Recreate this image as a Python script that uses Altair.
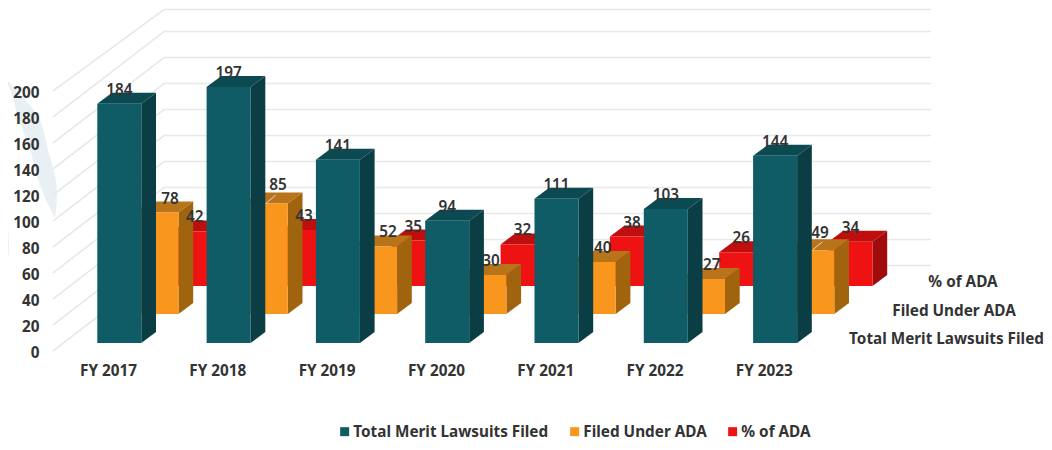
import altair as alt
import pandas as pd

# ---- chart values ----
YEARS = ["FY 2017", "FY 2018", "FY 2019", "FY 2020", "FY 2021", "FY 2022", "FY 2023"]
TOTAL = [184, 197, 141, 94, 111, 103, 144]
ADA = [78, 85, 52, 30, 40, 27, 49]
PCT = [42, 43, 35, 32, 38, 26, 34]
SERIES = ["Total Merit Lawsuits Filed", "Filed Under ADA", "% of ADA"]
Y_TICKS = [0, 20, 40, 60, 80, 100, 120, 140, 160, 180, 200]

# ---- styling / layout ----
FONT = "Noto Sans"
FS = 15.3
TXT = "#333333"
COL_FRONT = ["#0F5C67", "#F9961D", "#EE1212"]
COL_SIDE = ["#0A3D44", "#A0640F", "#A00C0C"]
COL_TOP = ["#0C4A52", "#B8741A", "#BE0E0E"]
W, H = 1036, 434
STEP = 109.3      # px per category
UNIT = 1.3        # px per value unit
ORIGIN_X = 108    # page px of first category tick
ORIGIN_Y = 351    # page px of value 0
BAR_W = 44
DEPTH_X, DEPTH_Y = 14.7, 11
WALL_TOP = 9.5    # highest page px a gridline can reach inside the canvas
# front-left page x and floor page y per series row
ROW_X = [97.3, 134.5, 172.7]
ROW_BASE = [343, 314, 286]
# orange labels were nudged by hand in the source
ADA_LABEL_DX = [13.5, 12.2, 12.9, 6.6, 9, 8.7, 7.7]
ADA_LABEL_UP = [14, 18.5, 14, 14, 14, 14, 17.6]
LEADER = [1, 6]


def ux(px):
    return (px - ORIGIN_X) / STEP


def uy(px):
    return (ORIGIN_Y - px) / UNIT


X_DOM = [ux(8), ux(8 + W)]
Y_DOM = [uy(8 + H), uy(8)]
xs = alt.Scale(domain=X_DOM, nice=False, zero=False)
ys = alt.Scale(domain=Y_DOM, nice=False, zero=False)


def X(f="x", **k):
    return alt.X(f"{f}:Q", scale=xs, title=None, **k)


def Y(f="y", **k):
    return alt.Y(f"{f}:Q", scale=ys, title=None, **k)


layers = []

# watermark behind everything
blade = [(78, 5, 5), (95, 12, 21), (113, 17, 36), (150, 30, 48), (193, 43, 57), (218, 55, 55)]
lobe = [(190, 0, 0), (217, 0, 7), (247, 0, 9), (273, 0, 5), (290, 0, 0)]
nick = [(157, 0, 0), (175, 0, 5)]
wm = []
for gid, shape in enumerate([blade, lobe, nick]):
    for py, a, b in shape:
        wm.append({"g": gid, "y": uy(py), "x": ux(a), "x2": ux(b)})
layers.append(
    alt.Chart(pd.DataFrame(wm)).mark_area(orient="horizontal", color="#E9F0F3", interpolate="monotone").encode(
        x=X(stack=None), x2="x2:Q", y=Y(), detail="g:N"
    )
)

# gridlines (walls)
grid = []
for t in Y_TICKS:
    back = min(t + 85.5 / UNIT, uy(WALL_TOP))
    grid += [
        {"t": t, "k": 0, "x": ux(53), "y": t},
        {"t": t, "k": 1, "x": ux(164), "y": back},
        {"t": t, "k": 2, "x": ux(931), "y": back},
    ]
layers.append(
    alt.Chart(pd.DataFrame(grid)).mark_line(color="#EAE8E8", strokeWidth=1.6).encode(
        x=X(
            axis=alt.Axis(
                values=list(range(len(YEARS))),
                labelExpr="[" + ",".join(f"'{y}'" for y in YEARS) + "][datum.value]",
                domain=False, ticks=False, grid=False, offset=-79, labelPadding=0,
                labelFont=FONT, labelFontSize=FS, labelFontWeight="bold", labelColor=TXT,
                zindex=1,
            )
        ),
        y=Y(
            axis=alt.Axis(
                values=Y_TICKS, domain=False, ticks=False, grid=False, offset=-36, labelPadding=5,
                labelOffset=1,
                labelFont=FONT, labelFontSize=FS, labelFontWeight="bold", labelColor=TXT,
                zindex=1,
            )
        ),
        detail="t:N", order="k:Q",
    )
)

# bars: back row first
ROWS = [TOTAL, ADA, PCT]
for r in [2, 1, 0]:
    vals = ROWS[r]
    front, side, top = [], [], []
    for i, v in enumerate(vals):
        x0 = ROW_X[r] + i * STEP
        x1 = x0 + BAR_W
        base = uy(ROW_BASE[r])
        tp = base + v
        dy = DEPTH_Y / UNIT
        dx = DEPTH_X
        front.append({"x": ux(x0), "x2": ux(x1), "y": base, "y2": tp, "s": SERIES[r]})
        side += [
            {"g": i, "x": ux(x1), "y": base, "y2": tp},
            {"g": i, "x": ux(x1 + dx), "y": base + dy, "y2": tp + dy},
        ]
        top += [
            {"g": i, "y": tp, "x": ux(x0), "x2": ux(x1)},
            {"g": i, "y": tp + dy, "x": ux(x0 + dx), "x2": ux(x1 + dx)},
        ]
    layers.append(
        alt.Chart(pd.DataFrame(side)).mark_area(color=COL_SIDE[r]).encode(
            x=X(), y=Y(stack=None), y2="y2:Q", detail="g:N"
        )
    )
    layers.append(
        alt.Chart(pd.DataFrame(top)).mark_area(orient="horizontal", color=COL_TOP[r]).encode(
            x=X(stack=None), x2="x2:Q", y=Y(), detail="g:N"
        )
    )
    layers.append(
        alt.Chart(pd.DataFrame(front)).mark_rect().encode(
            x=X(), x2="x2:Q", y=Y(), y2="y2:Q",
            color=alt.Color(
                "s:N",
                scale=alt.Scale(domain=SERIES, range=COL_FRONT),
                sort=SERIES,
                legend=alt.Legend(
                    title=None, orient="none", direction="horizontal", legendX=329, legendY=416,
                    symbolType="square", symbolSize=81, symbolStrokeWidth=0, symbolOpacity=1,
                    labelFont=FONT, labelFontSize=FS, labelFontWeight="bold", labelColor=TXT,
                    labelOffset=1, columnPadding=18, labelLimit=400, padding=0,
                ),
            ),
        )
    )

# leader lines
lead = []
for i in LEADER:
    cx = ROW_X[1] + i * STEP + BAR_W / 2
    tp = uy(ROW_BASE[1]) + ADA[i]
    lead += [
        {"g": i, "k": 0, "x": ux(cx), "y": tp},
        {"g": i, "k": 1, "x": ux(cx + 10), "y": tp + 8.5 / UNIT},
    ]
layers.append(
    alt.Chart(pd.DataFrame(lead)).mark_line(color="#D9D9D9", strokeWidth=1).encode(
        x=X(), y=Y(), detail="g:N", order="k:Q"
    )
)

# value labels
labels = []
for r in [2, 1, 0]:
    for i, v in enumerate(ROWS[r]):
        cx = ROW_X[r] + i * STEP + BAR_W / 2
        up = 14
        if r == 1:
            cx += ADA_LABEL_DX[i]
            up = ADA_LABEL_UP[i]
        labels.append({"x": ux(cx), "y": uy(ROW_BASE[r]) + v + up / UNIT, "t": str(v)})
layers.append(
    alt.Chart(pd.DataFrame(labels)).mark_text(
        font=FONT, fontSize=FS, fontWeight=600, color=TXT, baseline="middle", align="center"
    ).encode(x=X(), y=Y(), text="t:N")
)

# depth-axis series names
depth = pd.DataFrame({
    "t": SERIES,
    "x": [ux(946.5), ux(954), ux(963)],
    "y": [uy(339), uy(311), uy(282)],
})
layers.append(
    alt.Chart(depth).mark_text(
        font=FONT, fontSize=FS, fontWeight="bold", color=TXT, baseline="middle", align="center"
    ).encode(x=X(), y=Y(), text="t:N")
)

chart = (
    alt.layer(*layers)
    .properties(
        width=W, height=H, background="white",
        autosize=alt.AutoSizeParams(type="none"),
        padding=0,
    )
    .configure_view(stroke=None)
)
chart.save("out.html", embed_options={"renderer": "svg", "actions": False})
